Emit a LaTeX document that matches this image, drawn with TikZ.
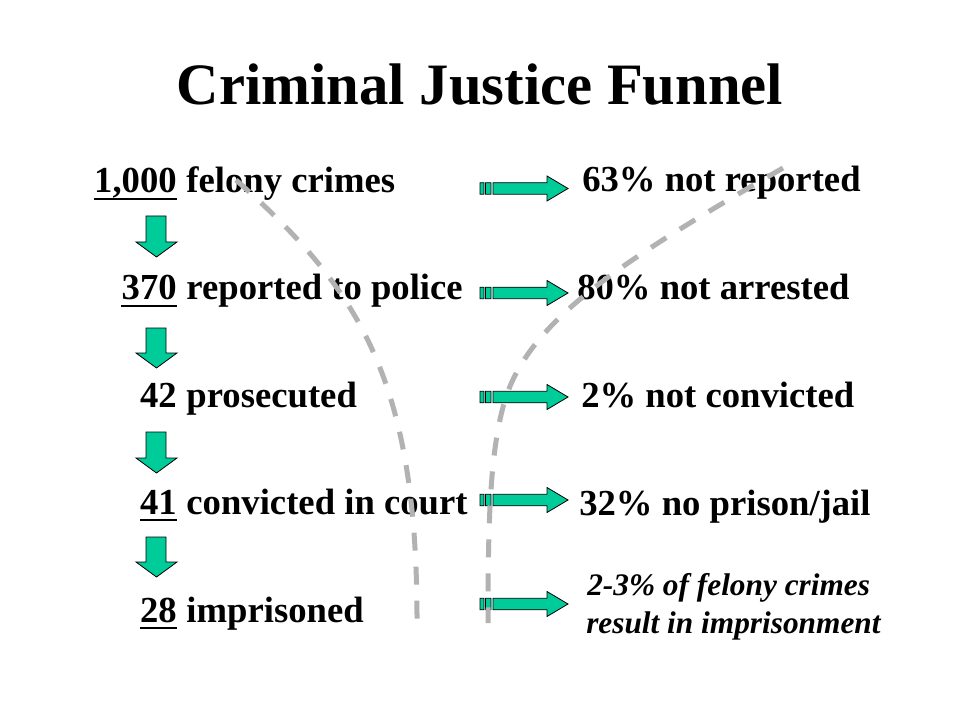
\documentclass[tikz,border=0pt]{standalone}
\usepackage{fontspec}
\setmainfont{Liberation Serif}
\usetikzlibrary{positioning}
\definecolor{funnelgreen}{HTML}{00CC99}
\definecolor{funnelgray}{HTML}{B2B2B2}

\begin{document}
\begin{tikzpicture}[x=0.75pt,y=-0.75pt,
    title/.style={font=\fontsize{44}{52}\selectfont\bfseries,inner sep=0pt},
    stage/.style={font=\fontsize{27.5}{33}\selectfont\bfseries,inner sep=0pt},
    note/.style={font=\fontsize{23.5}{28}\selectfont\bfseries\itshape,inner sep=0pt},
    block/.style={draw=black,line width=0.6pt,fill=funnelgreen},
    underbar/.style={line width=2pt},
    funnel/.style={draw=funnelgray,line width=3.75pt,dash pattern=on 13.5pt off 12pt}]
  \useasboundingbox[fill=white] (0,0) rectangle (960,720);

  \node[title,anchor=base] (title) at (480,105) {Criminal Justice Funnel};

  % left column: what is left at each step
  \node[stage,anchor=base east] (n1) at (177,193) {1,000};
  \node[stage,base right=6.9pt of n1] (s1) {felony crimes};
  \node[stage,anchor=base east] (n2) at (177,300) {370};
  \node[stage,base right=6.9pt of n2] (s2) {reported to police};
  \node[stage,anchor=base east] (n3) at (177,407) {42};
  \node[stage,base right=6.9pt of n3] (s3) {prosecuted};
  \node[stage,anchor=base east] (n4) at (177,514) {41};
  \node[stage,base right=6.9pt of n4] (s4) {convicted in court};
  \node[stage,anchor=base east] (n5) at (177,622) {28};
  \node[stage,base right=6.9pt of n5] (s5) {imprisoned};

  \draw[underbar] ([yshift=-4.5pt]n1.base west) -- ([yshift=-4.5pt]n1.base east);
  \draw[underbar] ([yshift=-4.5pt]n2.base west) -- ([yshift=-4.5pt]n2.base east);
  \draw[underbar] ([yshift=-4.5pt]n4.base west) -- ([yshift=-4.5pt]n4.base east);
  \draw[underbar] ([yshift=-4.5pt]n5.base west) -- ([yshift=-4.5pt]n5.base east);

  % down arrows
  \draw[block] (146,216) -- ++(20,0) -- ++(0,26) -- ++(11,0) -- ++(-20.5,15) -- ++(-20.5,-15) -- ++(10,0) -- cycle;
  \draw[block] (146,328) -- ++(20,0) -- ++(0,25) -- ++(11,0) -- ++(-20.5,15) -- ++(-20.5,-15) -- ++(10,0) -- cycle;
  \draw[block] (146,432) -- ++(20,0) -- ++(0,26) -- ++(11,0) -- ++(-20.5,15) -- ++(-20.5,-15) -- ++(10,0) -- cycle;
  \draw[block] (146,537) -- ++(20,0) -- ++(0,25) -- ++(11,0) -- ++(-20.5,15) -- ++(-20.5,-15) -- ++(10,0) -- cycle;

  % right arrows
  \draw[block] (480,182.75) rectangle ++(4,11.5) (485.5,182.75) rectangle ++(5.5,11.5)
    (493,182.75) -- ++(54,0) -- ++(0,-6.75) -- ++(21,12.5) -- ++(-21,12.5) -- ++(0,-6.75) -- ++(-54,0) -- cycle;
  \draw[block] (480,287.25) rectangle ++(4,11.5) (485.5,287.25) rectangle ++(5.5,11.5)
    (493,287.25) -- ++(54,0) -- ++(0,-6.75) -- ++(21,12.5) -- ++(-21,12.5) -- ++(0,-6.75) -- ++(-54,0) -- cycle;
  \draw[block] (480,391.25) rectangle ++(4,11.5) (485.5,391.25) rectangle ++(5.5,11.5)
    (493,391.25) -- ++(54,0) -- ++(0,-6.75) -- ++(21,12.5) -- ++(-21,12.5) -- ++(0,-6.75) -- ++(-54,0) -- cycle;
  \draw[block] (480,494.25) rectangle ++(4,11.5) (485.5,494.25) rectangle ++(5.5,11.5)
    (493,494.25) -- ++(54,0) -- ++(0,-6.75) -- ++(21,12.5) -- ++(-21,12.5) -- ++(0,-6.75) -- ++(-54,0) -- cycle;
  \draw[block] (480,598.25) rectangle ++(4,11.5) (485.5,598.25) rectangle ++(5.5,11.5)
    (493,598.25) -- ++(54,0) -- ++(0,-6.75) -- ++(21,12.5) -- ++(-21,12.5) -- ++(0,-6.75) -- ++(-54,0) -- cycle;

  % right column: what drops out
  \node[stage,anchor=base west] (r1) at (582,192) {63\% not reported};
  \node[stage,anchor=base west] (r2) at (577,300) {80\% not arrested};
  \node[stage,anchor=base west] (r3) at (581,407) {2\% not convicted};
  \node[stage,anchor=base west] (r4) at (579,515) {32\% no prison/jail};
  \node[note,anchor=base west] (r5) at (587,595) {2-3\% of felony crimes};
  \node[note,anchor=base west] (r6) at (586,633) {result in imprisonment};

  % funnel walls
  \draw[funnel] (236,180) .. controls (360,290) and (418,380) .. (417,627);
  \draw[funnel] (783,168) .. controls (620,262) and (530,320) .. (505,400)
    .. controls (490,450) and (488,520) .. (488,623);
\end{tikzpicture}
\end{document}
